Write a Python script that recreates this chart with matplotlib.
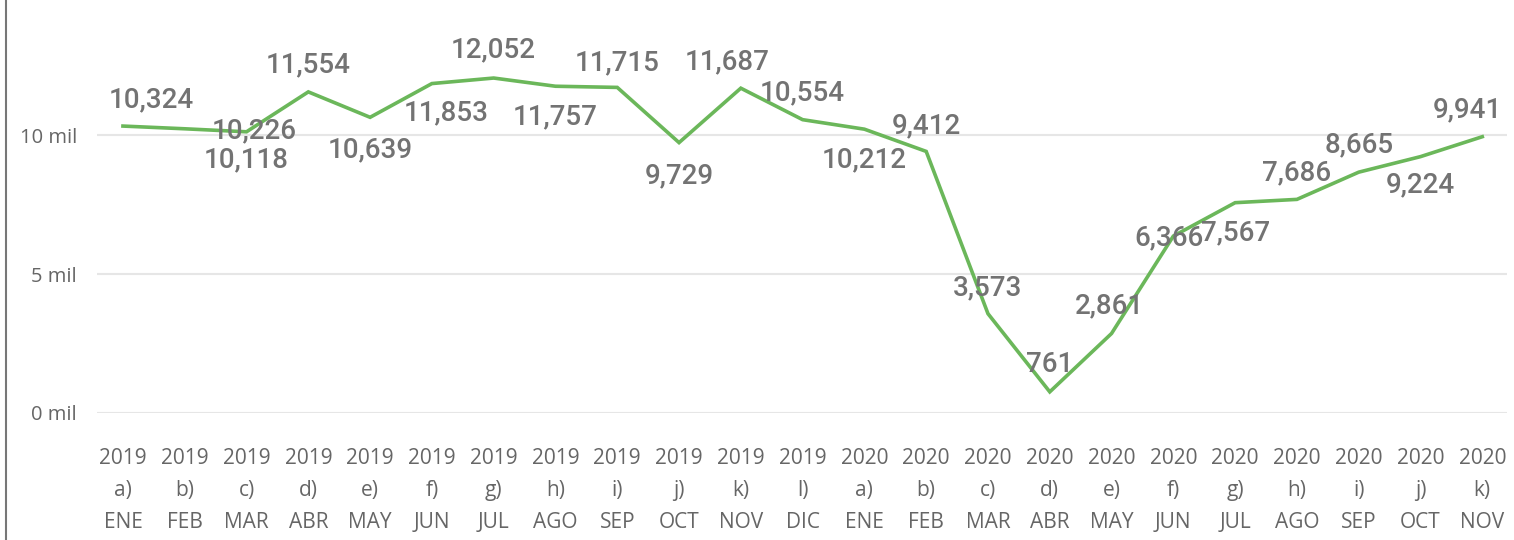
import matplotlib.pyplot as plt
from matplotlib.lines import Line2D

years = ["2019"] * 12 + ["2020"] * 11
letters = ["a)", "b)", "c)", "d)", "e)", "f)", "g)", "h)", "i)", "j)", "k)", "l)",
           "a)", "b)", "c)", "d)", "e)", "f)", "g)", "h)", "i)", "j)", "k)"]
months = ["ENE", "FEB", "MAR", "ABR", "MAY", "JUN", "JUL", "AGO", "SEP", "OCT", "NOV", "DIC",
          "ENE", "FEB", "MAR", "ABR", "MAY", "JUN", "JUL", "AGO", "SEP", "OCT", "NOV"]
values = [10324, 10226, 10118, 11554, 10639, 11853, 12052, 11757, 11715, 9729, 11687, 10554,
          10212, 9412, 3573, 761, 2861, 6366, 7567, 7686, 8665, 9224, 9941]

# label offsets in pixels (dx, dy up positive), roughly as placed in the original
label_off = [(28, 26), (69, -2), (0, -28), (0, 27), (0, -33), (14, -29), (0, 28), (0, -31),
             (0, 25), (0, -33), (-14, 26), (0, 27), (0, -31), (0, 26), (0, 26), (0, 27),
             (-2, 28), (-4, -2), (0, -30), (0, 27), (0, 27), (0, -28), (-15, 27)]

green = "#6bb75a"
gray = "#737373"

fig = plt.figure(figsize=(15.14, 5.4), dpi=100)
ax = fig.add_axes([97 / 1514, 1 - 413 / 540, 1410 / 1514, 408 / 540])

x = list(range(len(values)))
ax.plot(x, values, color=green, lw=2.6, solid_joinstyle="miter", zorder=3)

for i, v in enumerate(values):
    dx, dy = label_off[i]
    ax.annotate(f"{v:,}", (i, v), xytext=(dx * 0.72, dy * 0.72), textcoords="offset points",
                ha="center", va="center", fontsize=20, color=gray, family="Roboto",
                fontweight="medium", zorder=4)

ax.set_xlim(-0.42, 22.4)
ax.set_ylim(0, 14680)
ax.set_yticks([0, 5000, 10000])
ax.set_yticklabels(["0 mil", "5 mil", "10 mil"], fontsize=14.5, color="#666666", family="Open Sans")
ax.set_xticks(x)
ax.set_xticklabels([f"{a}\n{b}\n{c}" for a, b, c in zip(years, letters, months)],
                   fontsize=15, color="#666666", family="Open Sans", linespacing=1.69)
ax.tick_params(axis="both", length=0)
ax.tick_params(axis="x", pad=25)
ax.tick_params(axis="y", pad=14.5)
ax.grid(axis="y", color="#e6e6e6", lw=1.5)
ax.set_axisbelow(True)
for s in ax.spines.values():
    s.set_visible(False)

fig.add_artist(Line2D([6 / 1514, 6 / 1514], [0, 1], color="#777777", lw=1.5, transform=fig.transFigure))

fig.savefig("out.png", dpi=100)
